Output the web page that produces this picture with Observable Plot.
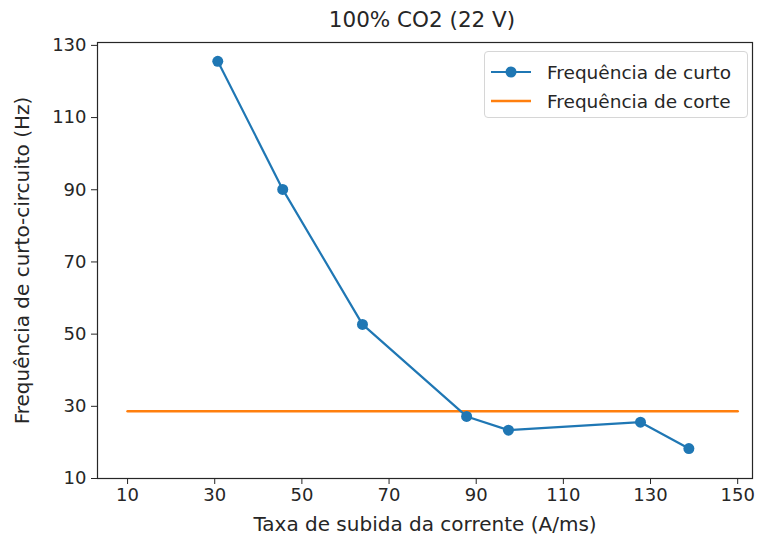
<!DOCTYPE html>
<html>
<head>
<meta charset="utf-8">
<script src="https://cdn.jsdelivr.net/npm/d3@7"></script>
<script src="https://cdn.jsdelivr.net/npm/@observablehq/plot@0.6"></script>
<style>
  html, body { margin: 0; padding: 0; background: #fff; }
  #wrap { position: relative; width: 762px; height: 545px; font-family: "DejaVu Sans", sans-serif; }
  .legend { position: absolute; left: 484px; top: 51px; width: 264px; height: 67px; box-sizing: border-box;
    border: 1px solid #d6d6d6; border-radius: 4px; background: rgba(255,255,255,0.8); font-size: 18.5px; color: #262626; }
  .legend .row { position: absolute; left: 0; height: 22px; display: flex; align-items: center; white-space: nowrap; }
  .legend svg { margin-left: 5px; margin-right: 15px; }
</style>
</head>
<body>
<div id="wrap"></div>
<script>
const title = "100% CO2 (22 V)";
const xLabel = "Taxa de subida da corrente (A/ms)";
const yLabel = "Frequência de curto-circuito (Hz)";
const seriesCurto = "Frequência de curto";
const seriesCorte = "Frequência de corte";

const taxa = [30.7, 45.6, 63.9, 87.8, 97.4, 127.7, 138.8];
const freqCurto = [125.6, 90.1, 52.7, 27.2, 23.4, 25.6, 18.3];
const corteX = [10, 150];
const corteY = [28.6, 28.6];

const xTicks = [10, 30, 50, 70, 90, 110, 130, 150];
const yTicks = [10, 30, 50, 70, 90, 110, 130];

const blue = "#1f77b4";
const orange = "#ff7f0e";

const curto = taxa.map((x, i) => ({x, y: freqCurto[i]}));
const corte = corteX.map((x, i) => ({x, y: corteY[i]}));

const chart = Plot.plot({
  width: 762,
  height: 545,
  marginLeft: 97,
  marginRight: 10,
  marginTop: 42,
  marginBottom: 67,
  style: {fontFamily: "DejaVu Sans, sans-serif", fontSize: "18px", color: "#262626", background: "white"},
  x: {domain: [3.1, 153.4]},
  y: {domain: [10, 130.8]},
  marks: [
    Plot.line(corte, {x: "x", y: "y", stroke: orange, strokeWidth: 2.5}),
    Plot.line(curto, {x: "x", y: "y", stroke: blue, strokeWidth: 2.2}),
    Plot.dot(curto, {x: "x", y: "y", fill: blue, r: 5.5}),
    Plot.frame({stroke: "#262626", strokeWidth: 1.2}),
    Plot.axisX(xTicks, {tickSize: 6, tickPadding: 4, fontSize: 18, label: null, stroke: "#262626", fill: "#262626"}),
    Plot.axisY(yTicks, {tickSize: 6, tickPadding: 5, fontSize: 18, label: null, stroke: "#262626", fill: "#262626"}),
    Plot.text([title], {frameAnchor: "top", dy: -22, dx: -3, fontSize: 21.5, lineAnchor: "middle", fill: "#262626"}),
    Plot.text([xLabel], {frameAnchor: "bottom", dy: 46, fontSize: 20, lineAnchor: "middle", fill: "#262626"}),
    Plot.text([yLabel], {frameAnchor: "left", dx: -75, rotate: -90, textAnchor: "middle", fontSize: 20, lineAnchor: "middle", fill: "#262626"})
  ]
});

const wrap = document.getElementById("wrap");
wrap.appendChild(chart);

const legend = document.createElement("div");
legend.className = "legend";
legend.innerHTML = `
  <div class="row" style="top:9px">
    <svg width="42" height="20"><line x1="1" y1="10" x2="41" y2="10" stroke="${blue}" stroke-width="2.2"/><circle cx="21" cy="10" r="5.5" fill="${blue}"/></svg>
    <span>${seriesCurto}</span>
  </div>
  <div class="row" style="top:38px">
    <svg width="42" height="20"><line x1="1" y1="10" x2="41" y2="10" stroke="${orange}" stroke-width="2.5"/></svg>
    <span>${seriesCorte}</span>
  </div>`;
wrap.appendChild(legend);
</script>
</body>
</html>
